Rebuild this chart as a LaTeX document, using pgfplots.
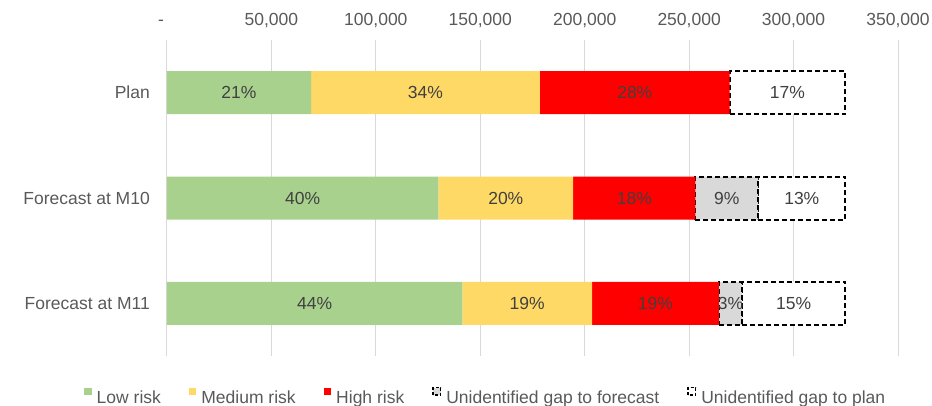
\documentclass[border=0pt]{standalone}
\usepackage{fontspec}
\setmainfont{Liberation Sans}
\usepackage{pgfplots}
\pgfplotsset{compat=1.18}
\usepackage{pgfplotstable}
\definecolor{lowc}{HTML}{A9D18E}
\definecolor{medc}{HTML}{FFD966}
\definecolor{highc}{HTML}{FF0000}
\definecolor{gapc}{HTML}{D9D9D9}
\definecolor{txtc}{HTML}{595959}
\definecolor{lblc}{HTML}{404040}
\definecolor{gridc}{HTML}{D9D9D9}

\pgfplotstableread{
y v p
0 68950 21
1 129940 40
2 141430 44
}\lowtab
\pgfplotstableread{
y v p
0 109640 34
1 64540 20
2 62060 19
}\medtab
\pgfplotstableread{
y v p
0 90780 28
1 58560 18
2 60800 19
}\hightab
\pgfplotstableread{
y v p
0 0 0
1 30020 9
2 11010 3
}\fcsttab
\pgfplotstableread{
y v p
0 55440 17
1 41750 13
2 49510 15
}\plantab

\newcommand{\fs}{\fontsize{17.5pt}{21pt}\selectfont}
\begin{document}
\begin{tikzpicture}[font=\fs]
\useasboundingbox (-167pt,-49pt) rectangle (765pt,356pt);
\begin{axis}[
  at={(0pt,0pt)}, anchor=south west,
  scale only axis, width=731pt, height=316pt,
  xbar stacked, bar width=43pt,
  xmin=0, xmax=350000,
  ymin=-0.5, ymax=2.5, y dir=reverse,
  ytick={0,1,2},
  yticklabels={Plan,Forecast at M10,Forecast at M11},
  xtick={0,50000,100000,150000,200000,250000,300000,350000},
  xticklabels={{\makebox[0pt][r]{-\hspace{3pt}}},{50,000},{100,000},{150,000},{200,000},{250,000},{300,000},{350,000}},
  xticklabel pos=upper,
  axis line style={draw=none},
  major tick length=0pt,
  xmajorgrids, ymajorgrids=false,
  grid style={draw=gridc, line width=1pt},
  xticklabel style={font=\fs, text=txtc, anchor=base, inner sep=0pt, yshift=15pt},
  yticklabel style={font=\fs, text=txtc, anchor=east, inner sep=0pt, xshift=-17pt},
  point meta=explicit symbolic,
  nodes near coords={\ifnum\pgfplotspointmeta>0 \pgfplotspointmeta\%\fi},
  every node near coord/.append style={font=\fs, text=lblc, anchor=center, inner sep=0pt},
  legend columns=-1,
  legend cell align=left,
  legend style={at={(-0.1135,-0.1266)}, anchor=west, draw=none, fill=none, inner sep=0pt,
    font=\fs, text=txtc, nodes={inner xsep=5pt, inner ysep=0pt, text depth=0.15em},
    /tikz/every even column/.append style={column sep=23pt}},
]
\addplot[fill=lowc, draw=none, legend image code/.code={\fill[lowc] (0pt,3pt) rectangle (7.5pt,10.5pt);}]
  table[x=v, y=y, meta=p] {\lowtab};
\addplot[fill=medc, draw=none, legend image code/.code={\fill[medc] (0pt,3pt) rectangle (7.5pt,10.5pt);}]
  table[x=v, y=y, meta=p] {\medtab};
\addplot[fill=highc, draw=none, legend image code/.code={\fill[highc] (0pt,3pt) rectangle (7.5pt,10.5pt);}]
  table[x=v, y=y, meta=p] {\hightab};
\addplot[fill=gapc, draw=black, line width=2pt, dash pattern=on 5pt off 3pt,
  legend image code/.code={\draw[black, fill=gapc, line width=1.5pt, dash pattern=on 3pt off 2pt] (0pt,3pt) rectangle (7.5pt,10.5pt);}]
  table[x=v, y=y, meta=p] {\fcsttab};
\addplot[fill=white, draw=black, line width=2pt, dash pattern=on 5pt off 3pt,
  legend image code/.code={\draw[black, fill=white, line width=1.5pt, dash pattern=on 3pt off 2pt] (0pt,3pt) rectangle (7.5pt,10.5pt);}]
  table[x=v, y=y, meta=p] {\plantab};
\legend{Low risk, Medium risk, High risk, Unidentified gap to forecast, Unidentified gap to plan}
\end{axis}
\end{tikzpicture}
\end{document}
